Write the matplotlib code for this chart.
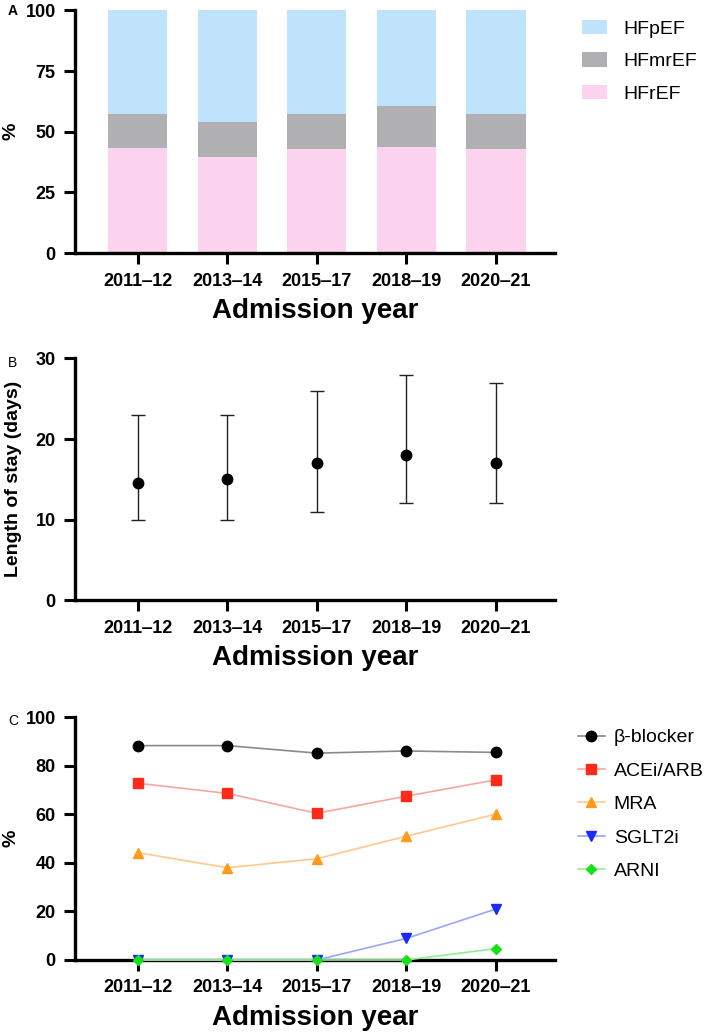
import numpy as np
import matplotlib
matplotlib.use('Agg')
import matplotlib.pyplot as plt

plt.rcParams['font.family'] = ['Liberation Sans', 'DejaVu Sans']

years = ['2011\u201212', '2013\u201214', '2015\u201217', '2018\u201219', '2020\u201221']

# panel A: phenotype shares (%)
hfref = [43.4, 39.6, 43.0, 43.6, 42.8]
hfmref = [14.1, 14.5, 14.2, 16.8, 14.6]
hfpef = [100 - a - b for a, b in zip(hfref, hfmref)]

# panel B: length of stay, median and IQR
los_median = [14.5, 15, 17, 18, 17]
los_q1 = [10, 10, 11, 12, 12]
los_q3 = [23, 23, 26, 28, 27]

# panel C: prescription rates (%)
drug_names = ['\u03b2-blocker', 'ACEi/ARB', 'MRA', 'SGLT2i', 'ARNI']
bblocker = [88.3, 88.3, 85.2, 86.1, 85.5]
acei_arb = [72.8, 68.6, 60.4, 67.5, 74.2]
mra = [44.2, 38.0, 41.7, 51.0, 60.1]
sglt2i = [0, 0, 0, 8.9, 21.0]
arni = [0, 0, 0, 0, 4.7]

x = np.arange(len(years))
TICK_FS = 13
XLAB_FS = 20


def style_axis(ax, ymax, yticks):
    for s in ['top', 'right']:
        ax.spines[s].set_visible(False)
    for s in ['left', 'bottom']:
        ax.spines[s].set_linewidth(2.4)
    ax.set_xlim(-0.7, 4.66)
    ax.set_ylim(0, ymax)
    ax.set_yticks(yticks)
    ax.set_xticks(x)
    ax.set_xticklabels(years)
    ax.tick_params(width=2.2, length=8, labelsize=TICK_FS, pad=6)
    for lab in ax.get_xticklabels() + ax.get_yticklabels():
        lab.set_fontweight('bold')
    ax.set_xlabel('Admission year', fontsize=XLAB_FS, fontweight='bold', labelpad=6)


fig = plt.figure(figsize=(7.09, 10.33), dpi=100)
axA = fig.add_axes([0.106, 0.755, 0.677, 0.235])
axB = fig.add_axes([0.106, 0.419, 0.677, 0.234])
axC = fig.add_axes([0.106, 0.0707, 0.677, 0.235])

# A
w = 0.66
axA.bar(x, hfref, width=w, color='#FBD3EE', label='HFrEF')
axA.bar(x, hfmref, width=w, bottom=hfref, color='#B0B0B2', label='HFmrEF')
axA.bar(x, hfpef, width=w, bottom=np.add(hfref, hfmref), color='#BEE3FA', label='HFpEF')
style_axis(axA, 100, [0, 25, 50, 75, 100])
axA.set_ylabel('%', fontsize=14, fontweight='bold', labelpad=4)
h, l = axA.get_legend_handles_labels()
axA.legend(h[::-1], l[::-1], loc='upper left', bbox_to_anchor=(1.04, 0.993), frameon=False,
           fontsize=14, handlelength=1.3, handleheight=0.75, labelspacing=0.75, handletextpad=0.8,
           borderaxespad=0)

# B
yerr = [np.subtract(los_median, los_q1), np.subtract(los_q3, los_median)]
axB.errorbar(x, los_median, yerr=yerr, fmt='o', color='black', ms=7.5, ecolor='#222222',
             elinewidth=1.0, capsize=5, capthick=1.0)
style_axis(axB, 30, [0, 10, 20, 30])
axB.set_ylabel('Length of stay (days)', fontsize=14, fontweight='bold', labelpad=10)

# C
series = [bblocker, acei_arb, mra, sglt2i, arni]
markers = ['o', 's', '^', 'v', 'D']
msizes = [7.5, 7.5, 7.5, 7.5, 5.5]
mcolors = ['#000000', '#FF2A1A', '#FF9A1A', '#1A2AFF', '#1AE01A']
lcolors = ['#8A8A8A', '#F7A7A0', '#FFC890', '#98A6FF', '#8FF08F']
for vals, name, m, ms, mc, lc in zip(series, drug_names, markers, msizes, mcolors, lcolors):
    axC.plot(x, vals, color=lc, lw=1.2, marker=m, ms=ms, mfc=mc, mec=mc,
             label=name, clip_on=False, zorder=5)
style_axis(axC, 100, [0, 20, 40, 60, 80, 100])
axC.set_ylabel('%', fontsize=14, fontweight='bold', labelpad=4)
axC.legend(loc='upper left', bbox_to_anchor=(1.031, 0.984), frameon=False, fontsize=14,
           handlelength=1.4, labelspacing=0.81, handletextpad=0.45, borderaxespad=0)

fig.text(0.011, 0.985, 'A', fontsize=10, fontweight='bold')
fig.text(0.011, 0.645, 'B', fontsize=10)
fig.text(0.011, 0.298, 'C', fontsize=10)

fig.savefig('out.png', dpi=100)
